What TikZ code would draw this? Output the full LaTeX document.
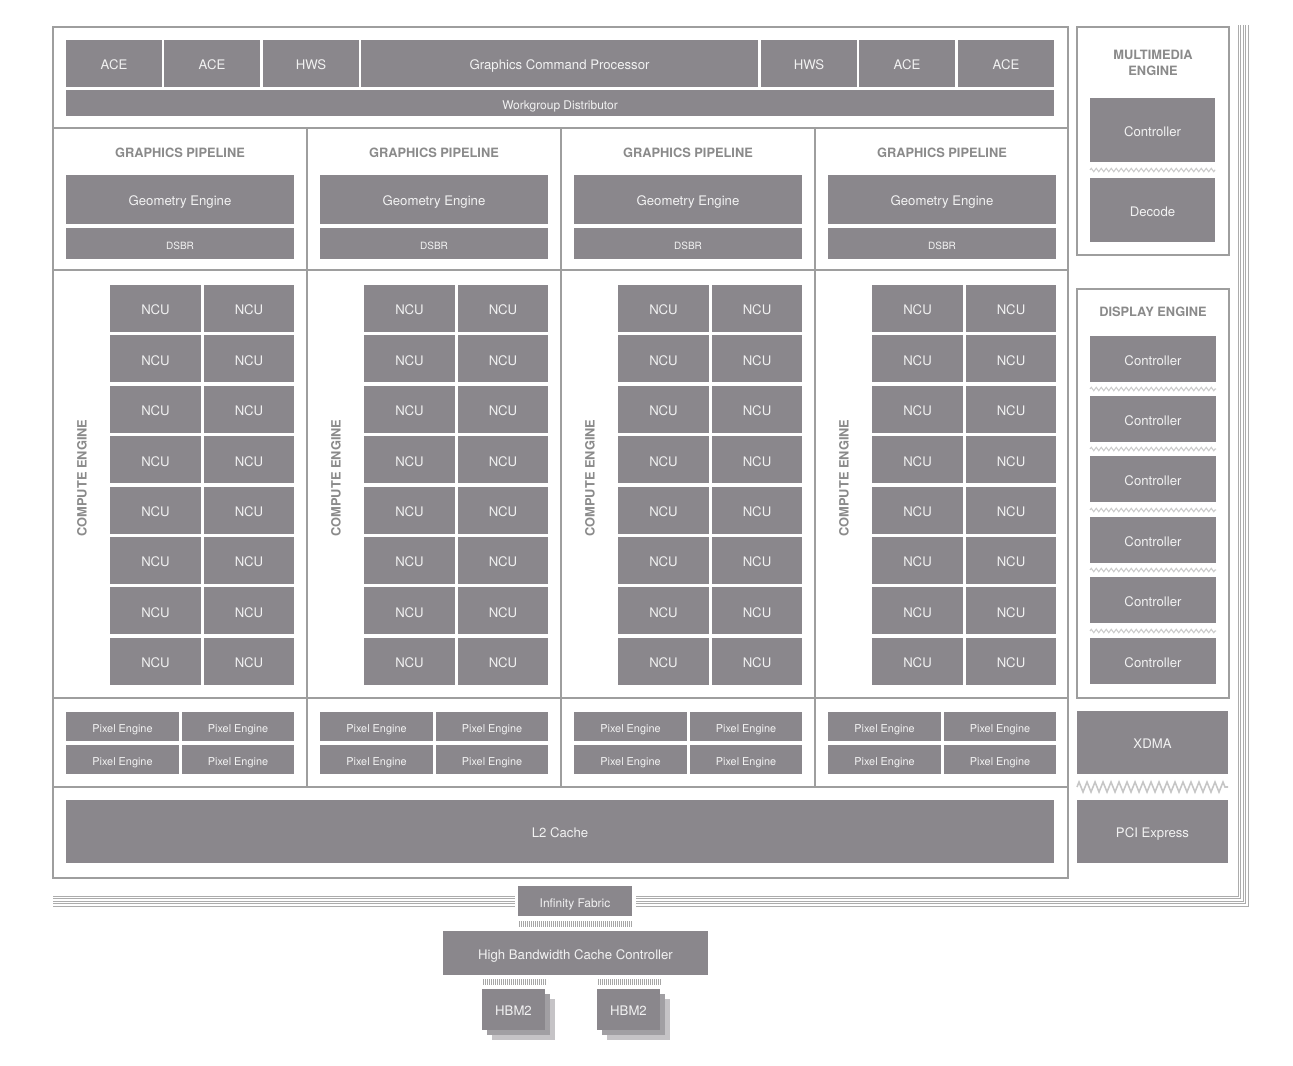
\documentclass[tikz,border=0pt]{standalone}
\usepackage{fontspec}
\setmainfont{TeX Gyre Heros}
\usetikzlibrary{positioning, fit, decorations.pathmorphing}
\definecolor{blkgray}{HTML}{8A878C}
\definecolor{linegray}{HTML}{9E9E9E}
\definecolor{hdrgray}{HTML}{8A8A8A}

\begin{document}
\begin{tikzpicture}[
  x=0.02cm, y=-0.02cm,
  blk/.style={fill=blkgray, inner sep=0pt},
  lbl/.style={text=white!95!black, inner sep=0pt, text height=0.72em,
              text depth=0pt, font=\fontsize{7.5}{8}\selectfont},
  lblsmall/.style={lbl, font=\fontsize{6.2}{7}\selectfont},
  frame/.style={draw=linegray, line width=1.3pt},
  hdr/.style={text=hdrgray, align=center,
              font=\bfseries\fontsize{7.3}{8.8}\selectfont},
  hatch/.style={draw=gray!40, line width=0.6pt, decorate,
                decoration={zigzag, amplitude=0.035cm, segment length=0.1cm}},
  widehatch/.style={draw=gray!45, line width=0.9pt, decorate,
                decoration={zigzag, amplitude=0.1cm, segment length=0.16cm}},
  rule/.style={draw=gray!65, line width=0.35pt},
  bar/.style={draw=gray!70, line width=0.3pt},
]
\useasboundingbox (0,0) rectangle (1293,1065);

% main die outline
\draw[frame] (53,27) rectangle (1068,878);
\foreach \yy in {128,270,698,787}
  \draw[frame] (53,\yy) -- (1068,\yy);
\foreach \xx in {307,561,815}
  \draw[frame] (\xx,128) -- (\xx,787);

% command front end
\foreach \xa/\xb/\txt [count=\i] in {66/162/ACE, 164/260/ACE, 263/359/HWS,
    361/758/Graphics Command Processor, 761/857/HWS, 859/955/ACE, 958/1054/ACE}
  \node[blk, fit={(\xa,40)(\xb,87)}, label={[lbl]center:\txt}] (cmd\i) {};
\node[blk, fit={(66,90)(1054,116)},
  label={[lbl, font=\fontsize{6.8}{7}\selectfont]center:Workgroup Distributor}] (wgd) {};

% four shader engines
\foreach \c in {0,...,3} {
  \pgfmathsetmacro{\dx}{254*\c}
  \node[hdr] (gp\c) at (180+\dx,153) {GRAPHICS PIPELINE};
  \node[blk, fit={(66+\dx,175)(294+\dx,224)}, label={[lbl]center:Geometry Engine}] (geo\c) {};
  \node[blk, fit={(66+\dx,228)(294+\dx,259)},
    label={[lbl, font=\fontsize{5.7}{6}\selectfont]center:DSBR}] (dsbr\c) {};
  \node[hdr, rotate=90] (ce\c) at (82+\dx,478) {COMPUTE ENGINE};
  \foreach \r [evaluate=\r as \ya using 285+50.4*\r,
               evaluate=\r as \yb using 332+50.4*\r] in {0,...,7} {
    \node[blk, fit={(110+\dx,\ya)(201+\dx,\yb)}, label={[lbl]center:NCU}] (ncu\c-\r-a) {};
    \node[blk, fit={(204+\dx,\ya)(294+\dx,\yb)}, label={[lbl]center:NCU}] (ncu\c-\r-b) {};
  }
  \node[blk, fit={(66+\dx,712)(179+\dx,741)}, label={[lblsmall]center:Pixel Engine}] (pe\c-1) {};
  \node[blk, fit={(182+\dx,712)(294+\dx,741)}, label={[lblsmall]center:Pixel Engine}] (pe\c-2) {};
  \node[blk, fit={(66+\dx,745)(179+\dx,774)}, label={[lblsmall]center:Pixel Engine}] (pe\c-3) {};
  \node[blk, fit={(182+\dx,745)(294+\dx,774)}, label={[lblsmall]center:Pixel Engine}] (pe\c-4) {};
}

\node[blk, fit={(66,800)(1054,863)}, label={[lbl]center:L2 Cache}] (l2) {};

% multimedia engine
\draw[frame] (1077,27) rectangle (1229,255);
\node[hdr] (mmtitle) at (1153,63) {MULTIMEDIA\\ENGINE};
\node[blk, fit={(1090,98)(1215,162)}, label={[lbl]center:Controller}] (mmctl) {};
\node[blk, fit={(1090,178)(1215,242)}, label={[lbl]center:Decode}] (decode) {};
\draw[hatch] (1090,170) -- (1215,170);

% display engine
\draw[frame] (1077,289) rectangle (1229,698);
\node[hdr] (detitle) at (1153,312) {DISPLAY ENGINE};
\foreach \yt [count=\i] in {336,396,456,517,577,638}
  \node[blk, fit={(1090,\yt)(1216,\yt+46)}, label={[lbl]center:Controller}] (dctl\i) {};
\foreach \yh in {389,449,510,570,631}
  \draw[hatch] (1090,\yh) -- (1216,\yh);

% io
\node[blk, fit={(1077,711)(1228,774)}, label={[lbl]center:XDMA}] (xdma) {};
\draw[widehatch] (1077,787) -- (1228,787);
\node[blk, fit={(1077,800)(1228,863)}, label={[lbl]center:PCI Express}] (pcie) {};

% package edge lines
\foreach \i in {0,...,4} {
  \draw[rule] (1238+2.5*\i,25) -- (1238+2.5*\i,896+2.5*\i) -- (636,896+2.5*\i);
  \draw[rule] (53,896+2.5*\i) -- (515,896+2.5*\i);
}

% memory side
\node[blk, fit={(518,886)(632,916)},
  label={[lbl, font=\fontsize{6.8}{7}\selectfont]center:Infinity Fabric}] (if) {};
\foreach \xx in {519,521,...,631}
  \draw[bar] (\xx,921) -- (\xx,927);
\node[blk, fit={(443,931)(708,975)},
  label={[lbl, font=\fontsize{7.5}{8}\selectfont]center:High Bandwidth Cache Controller}] (hbcc) {};
\foreach \xa [count=\i] in {482,597} {
  \foreach \xx in {1,3,...,63}
    \draw[bar] (\xa+\xx,979) -- (\xa+\xx,985);
  \fill[blkgray!50] (\xa+10,999) rectangle (\xa+73,1040);
  \fill[blkgray!80] (\xa+5,994) rectangle (\xa+68,1035);
  \node[blk, fit={(\xa,989)(\xa+63,1030)}, label={[lbl]center:HBM2}] (hbm\i) {};
}
\end{tikzpicture}
\end{document}
